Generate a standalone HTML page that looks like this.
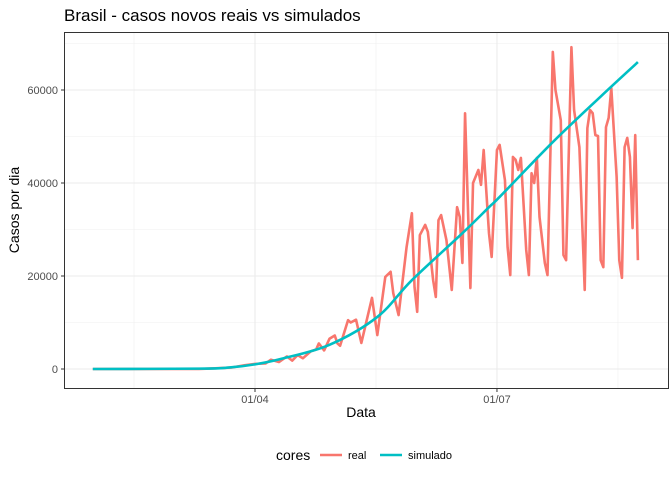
<!DOCTYPE html>
<html><head><meta charset="utf-8"><style>
body{margin:0;background:#fff;}
svg text{font-family:"Liberation Sans",sans-serif;}
</style></head><body>
<svg width="672" height="480" viewBox="0 0 672 480" xmlns="http://www.w3.org/2000/svg">
<rect width="672" height="480" fill="#fff"/>
<text x="64" y="21" font-size="17" fill="#000">Brasil - casos novos reais vs simulados</text>
<g id="grid"></g>
<g id="series"></g>
<rect x="64.5" y="32.5" width="604" height="356" fill="none" stroke="#333" stroke-width="1"/>
<g id="axes"></g>
<text x="361" y="417" font-size="14" text-anchor="middle">Data</text>
<text transform="translate(19,210) rotate(-90)" font-size="14" text-anchor="middle">Casos por dia</text>
<g>
<text x="276" y="460" font-size="14">cores</text>
<g><line x1="320" y1="455" x2="342" y2="455" stroke="#F8766D" stroke-width="2.5"/><text x="348" y="459" font-size="11">real</text></g>
<g><line x1="380" y1="455" x2="402" y2="455" stroke="#00BFC4" stroke-width="2.5"/><text x="408" y="459" font-size="11">simulado</text></g>
</g>
</svg>
<script>
// days relative to 01/04
const realDays=[-61,-21,-17,-9,-4,0,4,6,9,12,14,16,18,21,23,24,26,28,30,31,32,35,36,38,40,44,46,49,51,52,54,57,59,60,61,62,64,65,67,68,69,70,72,74,76,77,78,79,81,82,84,85,86,88,89,91,92,94,95,96,97,98,99,100,102,103,104,105,106,107,109,110,112,113,115,116,117,119,120,122,124,125,126,127,128,129,130,131,132,133,134,136,137,138,139,140,141,142,143,144];
const realValues=[0,0,100,300,800,1100,1200,2000,1500,2700,1800,3000,2300,3800,4200,5500,4000,6500,7200,5500,5000,10500,10000,10600,5600,15300,7300,19800,20900,16300,11600,26200,33500,17600,12300,28800,31000,29500,19100,15500,32000,33100,27700,17000,34800,32700,22800,55000,17400,40000,42800,39600,47100,29200,24100,47100,48200,40600,26200,20200,45600,45000,42800,45400,25600,20200,42100,40000,45400,32700,22800,20200,68200,60000,53500,24500,23400,69200,55700,47700,17000,51800,55700,55000,50300,50100,23400,21900,52000,54000,60400,41300,23400,19600,47700,49700,45600,30300,50300,23400];
const simDays=[-61,-21,-10,0,10,28,46,59,78,88,92,112,130,144];
const simValues=[0,80,300,1000,2200,5200,11200,19100,29200,34800,37000,48800,58600,66000];
const yTicks=[0,20000,40000,60000];
const yTickLabels=["0","20000","40000","60000"];
const xTicks=[0,91];
const xTickLabels=["01/04","01/07"];
const xMinor=[-45.5,45.5,136.5];
const yMinor=[10000,30000,50000,70000];

const NS="http://www.w3.org/2000/svg";
const X=d=>255+d*2.659;
const Y=v=>369-v/20000*93;
function mk(tag,attrs,parent){const e=document.createElementNS(NS,tag);for(const k in attrs)e.setAttribute(k,attrs[k]);parent.appendChild(e);return e;}
const grid=document.getElementById('grid'),axes=document.getElementById('axes'),series=document.getElementById('series');
mk('rect',{x:64,y:32,width:604,height:356,fill:'#fff'},grid);
xMinor.forEach(d=>{const l=mk('line',{x1:X(d),x2:X(d),y1:32,y2:388,stroke:'#f0f0f0','stroke-width':0.6},grid);

});
yMinor.forEach(v=>{const l=mk('line',{x1:64,x2:668,y1:Y(v),y2:Y(v),stroke:'#f0f0f0','stroke-width':0.6},grid);

});
xTicks.forEach((d,i)=>{const l=mk('line',{x1:X(d),x2:X(d),y1:32,y2:388,stroke:'#ebebeb','stroke-width':1.1},grid);


mk('line',{x1:X(d),x2:X(d),y1:389,y2:392,stroke:'#333'},axes);
const t=mk('text',{x:X(d),y:403,'font-size':11,fill:'#4d4d4d','text-anchor':'middle'},axes);t.textContent=xTickLabels[i];

});
yTicks.forEach((v,i)=>{const l=mk('line',{x1:64,x2:668,y1:Y(v),y2:Y(v),stroke:'#ebebeb','stroke-width':1.1},grid);


mk('line',{x1:61,x2:64,y1:Y(v),y2:Y(v),stroke:'#333'},axes);
const t=mk('text',{x:58,y:Y(v)+4,'font-size':11,fill:'#4d4d4d','text-anchor':'end'},axes);t.textContent=yTickLabels[i];

});
const rp=mk('polyline',{points:realDays.map((d,i)=>X(d)+','+Y(realValues[i])).join(' '),fill:'none',stroke:'#F8766D','stroke-width':2.6,'stroke-linejoin':'round'},series);


const pts=simDays.map((d,i)=>[X(d),Y(simValues[i])]);
let p='M'+pts[0][0]+','+pts[0][1];
for(let i=0;i<pts.length-1;i++){const p0=pts[Math.max(0,i-1)],p1=pts[i],p2=pts[i+1],p3=pts[Math.min(pts.length-1,i+2)];
p+=' C'+(p1[0]+(p2[0]-p0[0])/6)+','+(p1[1]+(p2[1]-p0[1])/6)+' '+(p2[0]-(p3[0]-p1[0])/6)+','+(p2[1]-(p3[1]-p1[1])/6)+' '+p2[0]+','+p2[1];}
const sp=mk('path',{d:p,fill:'none',stroke:'#00BFC4','stroke-width':2.6},series);


</script>
</body></html>
